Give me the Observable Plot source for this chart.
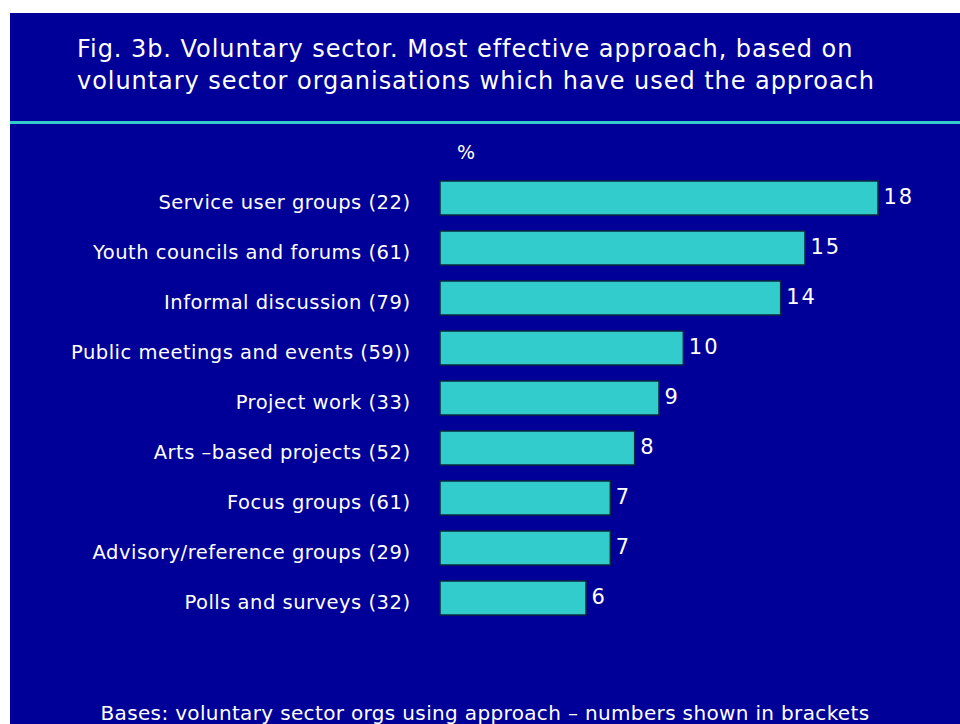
<!DOCTYPE html>
<html>
<head>
<meta charset="utf-8">
<script src="https://cdn.jsdelivr.net/npm/d3@7"></script>
<script src="https://cdn.jsdelivr.net/npm/@observablehq/plot@0.6"></script>
<style>
  html, body { margin: 0; padding: 0; background: #ffffff; width: 960px; height: 724px; overflow: hidden; }
  #panel { position: absolute; left: 10px; top: 13px; width: 950px; height: 711px; background: #000099; overflow: hidden; }
  .txt { position: absolute; color: #ffffff; font-family: "DejaVu Sans", sans-serif; white-space: nowrap; }
  #title { left: 67px; top: 20px; font-size: 24px; line-height: 32px; letter-spacing: 0.95px; }
  #rule { position: absolute; left: 0; top: 108px; width: 950px; height: 3px; background: #33CCCC; }
  #pct { left: 447px; top: 128px; font-size: 19px; }
  #foot { left: 0; width: 950px; text-align: center; top: 688px; font-size: 20px; letter-spacing: 0.35px; }
  #chart { position: absolute; left: -10px; top: 109px; }
  #chart g[aria-label="y-axis tick label"] text { letter-spacing: 0.5px; }
</style>
</head>
<body>
<div id="panel">
  <div id="title" class="txt">Fig. 3b. Voluntary sector. Most effective approach, based on<br>voluntary sector organisations which have used the approach</div>
  <div id="rule"></div>
  <div id="pct" class="txt">%</div>
  <div id="chart"></div>
  <div id="foot" class="txt">Bases: voluntary sector orgs using approach – numbers shown in brackets</div>
</div>
<script>
const categories = [
  "Service user groups (22)",
  "Youth councils and forums (61)",
  "Informal discussion (79)",
  "Public meetings and events (59))",
  "Project work (33)",
  "Arts –based projects (52)",
  "Focus groups (61)",
  "Advisory/reference groups (29)",
  "Polls and surveys (32)"
];
const values = [18, 15, 14, 10, 9, 8, 7, 7, 6];

const data = categories.map((c, i) => ({category: c, value: values[i]}));

const plot = Plot.plot({
  width: 960,
  height: 520,
  marginLeft: 440,
  marginRight: 82,
  marginTop: 0,
  marginBottom: 0,
  style: {background: "transparent", fontFamily: "'DejaVu Sans', sans-serif", color: "#ffffff"},
  x: {domain: [0, 18], range: [440, 878], axis: null},
  y: {domain: categories, range: [50, 502.7], paddingInner: 0.32, paddingOuter: 0.16, label: null},
  marks: [
    Plot.barX(data, {y: "category", x: "value", fill: "#33CCCC", stroke: "#0a2a3a", strokeWidth: 1.5}),
    Plot.axisY({tickSize: 0, tickPadding: 30, fontSize: 19.5, fill: "#ffffff", dy: 4, label: null}),
    Plot.text(data, {y: "category", x: "value", text: d => String(d.value), textAnchor: "start", dx: 5, fontSize: 21, fill: "#ffffff", dy: -1})
  ]
});
document.getElementById("chart").appendChild(plot);
plot.querySelectorAll("g[aria-label='text'] text").forEach(t => t.style.letterSpacing = "2px");
</script>
</body>
</html>
